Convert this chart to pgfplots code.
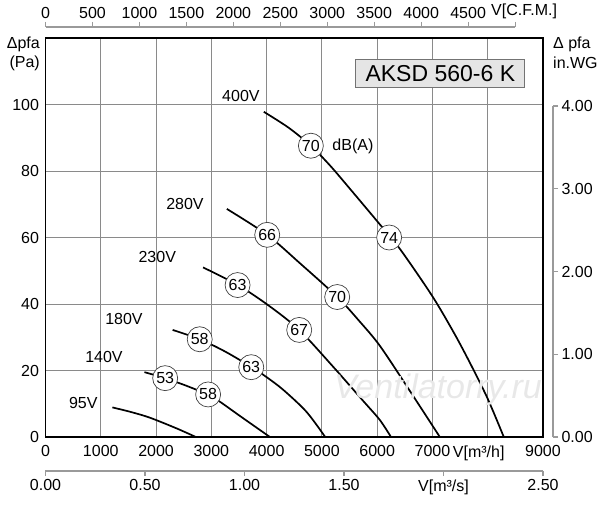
\documentclass[border=0pt]{standalone}
\usepackage{fontspec}
\setmainfont{Liberation Sans}
\usepackage{pgfplots}
\pgfplotsset{compat=1.18}
\definecolor{gridgray}{HTML}{8A8A8A}
\definecolor{axgray}{HTML}{9A9A9A}
\begin{document}
\begin{tikzpicture}[font=\fontsize{16bp}{19bp}\selectfont]
\path[use as bounding box] (-45.5bp,-68bp) rectangle (554.5bp,437bp);
% main axis
\begin{axis}[
  at={(0,0)}, anchor=south west,
  scale only axis, width=497.5bp, height=399bp,
  xmin=0, xmax=9000, ymin=0, ymax=120,
  xtick={0,1000,...,9000},
  xticklabels={0,1000,2000,3000,4000,5000,6000,7000,{\hspace*{-18bp}V[m³/h]},9000},
  ytick={0,20,...,120},
  yticklabels={0,20,40,60,80,100,{}},
  grid=major,
  major grid style={draw=gridgray, line width=0.9bp},
  axis line style={line width=1.6bp, black},
  major tick length=0pt, tick style={draw=none},
  xticklabel style={yshift=-5bp},
  yticklabel style={xshift=-3bp},
  clip=false,
]
\addplot[black, line width=1.7bp, smooth, tension=0.5] coordinates {(1210,8.9) (1550,7.5) (1890,5.8) (2370,2.6) (2720,0)};
\addplot[black, line width=1.7bp, smooth, tension=0.5] coordinates {(1790,19.5) (2160,17.7) (2550,15.4) (2944,12.7) (3156,10.6) (3520,6.3) (4060,0)};
\addplot[black, line width=1.7bp, smooth, tension=0.5] coordinates {(2300,32.2) (2790,29.4) (3250,25.7) (3730,21.0) (4000,18.0) (4300,14.2) (4720,7.6) (5060,0)};
\addplot[black, line width=1.7bp, smooth, tension=0.5] coordinates {(2850,51.0) (3480,45.7) (4040,39.5) (4590,32.2) (5200,21.2) (5750,10.8) (6049,5.1) (6250,0)};
\addplot[black, line width=1.7bp, smooth, tension=0.5] coordinates {(3280,68.6) (4010,60.8) (4600,52.3) (5280,42.1) (5670,35.0) (6050,27.4) (6590,13.9) (7134,0)};
\addplot[black, line width=1.7bp, smooth, tension=0.5] coordinates {(3950,97.8) (4400,93.0) (4800,87.6) (5150,81.6) (5510,74.6) (6000,64.9) (6410,56.6) (7000,42.3) (7400,31.0) (7700,21.6) (8000,11.5) (8291,0)};
% watermark
\node[text=black!9, font=\fontsize{34bp}{38bp}\selectfont\itshape] at (axis cs:7100,14.2) {Ventilatorry.ru};
% voltage labels
\node at (axis cs:3535,102.7) {400V};
\node at (axis cs:2523,70.2) {280V};
\node at (axis cs:2022,54.0) {230V};
\node at (axis cs:1420,35.5) {180V};
\node at (axis cs:1058,24.1) {140V};
\node at (axis cs:684,10.1) {95V};
\node at (axis cs:5561,87.4) {dB(A)};
% dB(A) circles
\tikzset{dbc/.style={circle, draw=black!75, line width=0.7bp, fill=white, inner sep=0pt, minimum size=25bp}}
\node[dbc] at (axis cs:4801,87.6) {70};
\node[dbc] at (axis cs:6217,60.0) {74};
\node[dbc] at (axis cs:4011,60.8) {66};
\node[dbc] at (axis cs:5277,42.1) {70};
\node[dbc] at (axis cs:3475,45.7) {63};
\node[dbc] at (axis cs:4590,32.2) {67};
\node[dbc] at (axis cs:2790,29.4) {58};
\node[dbc] at (axis cs:3722,21.0) {63};
\node[dbc] at (axis cs:2165,17.7) {53};
\node[dbc] at (axis cs:2942,12.8) {58};
% title box
\node[draw=black!55, fill=black!10, line width=0.8bp, minimum width=169bp, minimum height=28bp, inner sep=0pt,
  font=\fontsize{23bp}{26bp}\selectfont] at (axis cs:7143,109.3) {AKSD 560-6 K};
\end{axis}
% right in.WG axis
\begin{axis}[
  at={(10bp,0)}, anchor=south west,
  scale only axis, width=497.5bp, height=331bp,
  xmin=0, xmax=1, ymin=0, ymax=4,
  axis x line=none, axis y line*=right,
  y axis line style={-, draw=axgray, line width=1.1bp},
  ytick={0,1,2,3,4}, yticklabels={0.00,1.00,2.00,3.00,4.00},
  tick align=outside, major tick length=5bp,
  tick style={draw=axgray, line width=1.1bp},
]
\end{axis}
% top CFM axis
\begin{axis}[
  at={(0,409bp)}, anchor=south west,
  scale only axis, width=469.6bp, height=1bp,
  xmin=0, xmax=5000, ymin=0, ymax=1,
  axis y line=none, axis x line*=top,
  x axis line style={-, draw=axgray, line width=1.1bp},
  xtick={0,500,...,5000},
  xticklabels={0,500,1000,1500,2000,2500,3000,3500,4000,4500,{\hspace*{18bp}V[C.F.M.]}},
  tick align=outside, major tick length=5bp,
  tick style={draw=axgray, line width=1.1bp},
]
\end{axis}
% bottom m3/s axis
\begin{axis}[
  at={(0,-34bp)}, anchor=south west,
  scale only axis, width=497.5bp, height=1bp,
  xmin=0, xmax=2.5, ymin=0, ymax=1,
  axis y line=none, axis x line*=bottom,
  x axis line style={-, draw=axgray, line width=1.1bp},
  xtick={0,0.5,1,1.5,2,2.5},
  xticklabels={0.00,0.50,1.00,1.50,V[m³/s],2.50},
  tick align=outside, major tick length=5bp,
  tick style={draw=axgray, line width=1.1bp},
]
\end{axis}
% axis titles
\node[anchor=east, inner sep=0pt] at (-5.5bp,393bp) {Δpfa};
\node[anchor=east, inner sep=0pt] at (-5.5bp,374bp) {(Pa)};
\node[anchor=west, inner sep=0pt] at (507.5bp,393bp) {Δ pfa};
\node[anchor=west, inner sep=0pt] at (507.5bp,374bp) {in.WG};
\end{tikzpicture}
\end{document}
